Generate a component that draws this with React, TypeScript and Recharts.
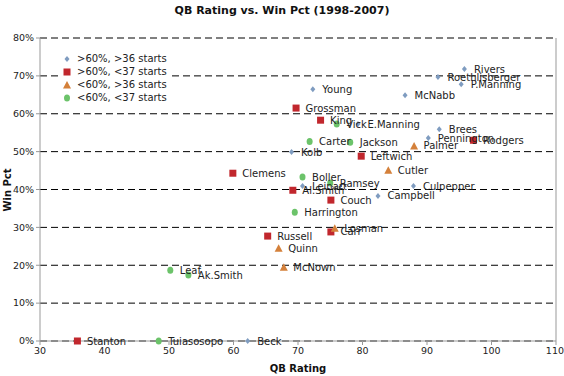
import React from 'react'
import { ScatterChart, Scatter, XAxis, YAxis, CartesianGrid, LabelList, ReferenceLine } from 'recharts'

// >60%, >36 starts
const blueNames = ['Rivers', 'Roethlisberger', 'P.Manning', 'Young', 'McNabb', 'E.Manning', 'Brees', 'Pennington', 'Kolb', 'Leinart', 'Culpepper', 'Campbell', 'Beck']
const blueRating = [95.8, 91.7, 95.3, 72.3, 86.6, 79.3, 91.9, 90.2, 69.0, 70.7, 87.9, 82.4, 62.2]
const bluePct = [71.8, 69.7, 67.8, 66.5, 64.9, 57.3, 55.9, 53.6, 49.9, 40.9, 40.9, 38.3, 0]

// >60%, <37 starts
const redNames = ['Grossman', 'King', 'Rodgers', 'Leftwich', 'Clemens', 'Al.Smith', 'Couch', 'Russell', 'Carr', 'Stanton']
const redRating = [69.7, 73.5, 97.2, 79.8, 59.9, 69.2, 75.1, 65.3, 75.1, 35.8]
const redPct = [61.5, 58.3, 53.0, 48.8, 44.3, 39.8, 37.2, 27.7, 28.8, 0]

// <60%, >36 starts
const orangeNames = ['Palmer', 'Cutler', 'Losman', 'Quinn', 'McNown']
const orangeRating = [88.0, 84.0, 75.7, 67.0, 67.8]
const orangePct = [51.5, 45.1, 29.8, 24.5, 19.5]

// <60%, <37 starts
const greenNames = ['Vick', 'Carter', 'Jackson', 'Boller', 'Ramsey', 'Harrington', 'Leaf', 'Ak.Smith', 'Tuiasosopo']
const greenRating = [76.0, 71.8, 78.1, 70.7, 75.0, 69.5, 50.2, 53.0, 48.4]
const greenPct = [57.3, 52.7, 52.5, 43.3, 41.7, 34.0, 18.7, 17.4, 0]

const xTicks = [30, 40, 50, 60, 70, 80, 90, 100, 110]
const yTicks = [0, 10, 20, 30, 40, 50, 60, 70, 80]

const legendItems = [
  { label: '>60%, >36 starts', color: '#7f9cc0', shape: 'diamond' },
  { label: '>60%, <37 starts', color: '#c1272d', shape: 'square' },
  { label: '<60%, >36 starts', color: '#d4803a', shape: 'triangle' },
  { label: '<60%, <37 starts', color: '#6cc36a', shape: 'circle' },
]

const build = (names: string[], xs: number[], ys: number[]) =>
  names.map((name, i) => ({ name, rating: xs[i], pct: ys[i] }))

const FONT = 'DejaVu Sans, Verdana, sans-serif'

function Marker(props: any) {
  const { cx, cy, kind, color } = props
  if (cx == null || cy == null) return null
  if (kind === 'diamond') {
    return <polygon points={`${cx},${cy - 3} ${cx + 2.5},${cy} ${cx},${cy + 3} ${cx - 2.5},${cy}`} fill={color} />
  }
  if (kind === 'square') {
    return <rect x={cx - 3.5} y={cy - 3.5} width={7} height={7} fill={color} />
  }
  if (kind === 'triangle') {
    return <polygon points={`${cx},${cy - 4} ${cx + 4},${cy + 3.5} ${cx - 4},${cy + 3.5}`} fill={color} />
  }
  return <ellipse cx={cx} cy={cy} rx={3} ry={3.5} fill={color} />
}

function LegendBox() {
  return (
    <div style={{ position: 'absolute', left: 58, top: 50, fontFamily: FONT, fontSize: 10, color: '#222', background: '#fff', padding: '2px 4px' }}>
      {legendItems.map((it) => (
        <div key={it.label} style={{ display: 'flex', alignItems: 'center', height: 13 }}>
          <svg width={10} height={10} style={{ marginRight: 5 }}>
            <Marker cx={5} cy={5} kind={it.shape} color={it.color} />
          </svg>
          <span>{it.label}</span>
        </div>
      ))}
    </div>
  )
}

export default function App() {
  const series = [
    { data: build(blueNames, blueRating, bluePct), ...legendItems[0] },
    { data: build(redNames, redRating, redPct), ...legendItems[1] },
    { data: build(orangeNames, orangeRating, orangePct), ...legendItems[2] },
    { data: build(greenNames, greenRating, greenPct), ...legendItems[3] },
  ]

  return (
    <div style={{ position: 'absolute', left: 0, top: 0, width: 564, height: 376, background: '#fff', fontFamily: FONT }}>
      <div style={{ position: 'absolute', top: 4, width: 564, textAlign: 'center', fontWeight: 'bold', fontSize: 11, color: '#111' }}>
        QB Rating vs. Win Pct (1998-2007)
      </div>
      <ScatterChart width={564} height={376} margin={{ top: 38, right: 8, bottom: 0, left: 0 }}>
        <CartesianGrid horizontal vertical={false} stroke="#000" strokeDasharray="7 4" />
        <XAxis
          type="number"
          dataKey="rating"
          domain={[30, 110]}
          ticks={xTicks}
          height={35}
          stroke="#999"
          tick={{ fill: '#222', fontSize: 9.5, fontFamily: FONT }}
          tickSize={4}
          label={{ value: 'QB Rating', position: 'insideBottom', offset: 4, fontSize: 10, fontWeight: 'bold', fill: '#111', fontFamily: FONT }}
        />
        <YAxis
          type="number"
          dataKey="pct"
          domain={[0, 80]}
          ticks={yTicks}
          width={40}
          stroke="#999"
          tick={{ fill: '#222', fontSize: 9.5, fontFamily: FONT }}
          tickSize={4}
          tickFormatter={(v: number) => `${v}%`}
        />
        <ReferenceLine x={110} stroke="#999" />
        {series.map((s) => (
          <Scatter
            key={s.label}
            name={s.label}
            data={s.data}
            isAnimationActive={false}
            shape={(p: any) => <Marker {...p} kind={s.shape} color={s.color} />}
          >
            <LabelList dataKey="name" position="right" offset={5} style={{ fontSize: 10, fill: '#222', fontFamily: FONT }} />
          </Scatter>
        ))}
      </ScatterChart>
      <LegendBox />
      <div
        style={{
          position: 'absolute', left: 7, top: 190, transform: 'translate(-50%, -50%) rotate(-90deg)',
          fontSize: 10, fontWeight: 'bold', color: '#111', whiteSpace: 'nowrap',
        }}
      >
        Win Pct
      </div>
    </div>
  )
}
